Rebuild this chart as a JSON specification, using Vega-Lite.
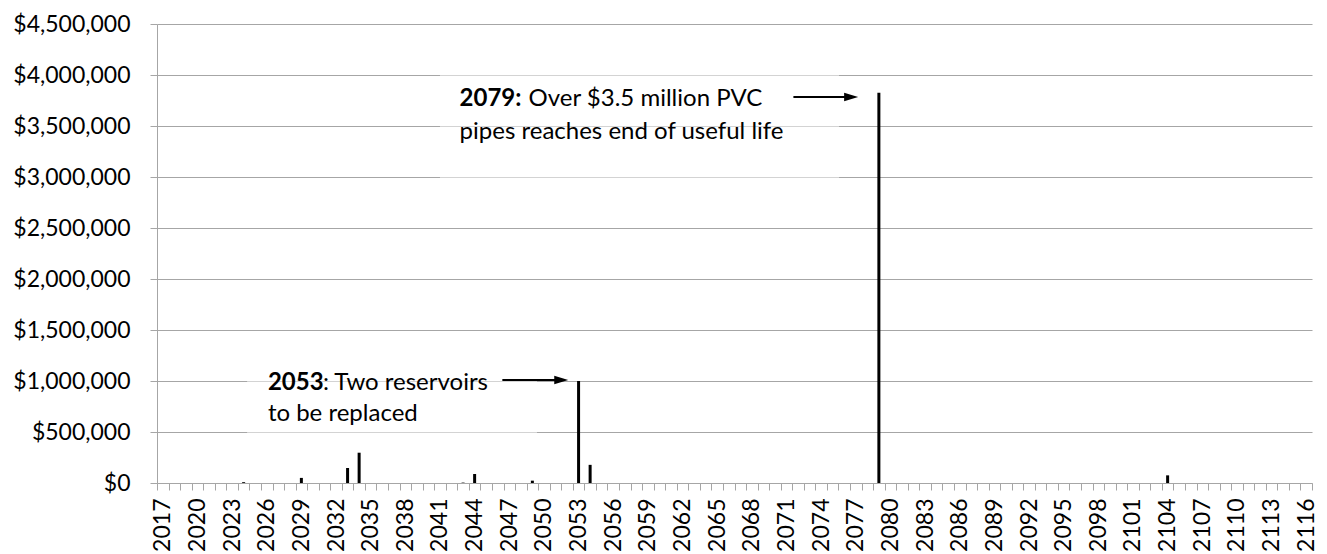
{
  "$schema": "https://vega.github.io/schema/vega-lite/v6.json",
  "autosize": {"type": "none"},
  "padding": {"left": 157, "top": 24, "right": 15, "bottom": 71},
  "width": 1155,
  "height": 459,
  "background": "white",
  "config": {
    "view": {"stroke": null},
    "font": "Lato",
    "axis": {"labelFont": "Lato", "labelColor": "#000000"}
  },
  "datasets": {
    "costs": [
      {"year": 2017, "cost": 0}, {"year": 2018, "cost": 0}, {"year": 2019, "cost": 0}, {"year": 2020, "cost": 0},
      {"year": 2021, "cost": 0}, {"year": 2022, "cost": 0}, {"year": 2023, "cost": 0}, {"year": 2024, "cost": 8000},
      {"year": 2025, "cost": 0}, {"year": 2026, "cost": 0}, {"year": 2027, "cost": 0}, {"year": 2028, "cost": 0},
      {"year": 2029, "cost": 50000}, {"year": 2030, "cost": 0}, {"year": 2031, "cost": 0}, {"year": 2032, "cost": 0},
      {"year": 2033, "cost": 147000}, {"year": 2034, "cost": 297000}, {"year": 2035, "cost": 0}, {"year": 2036, "cost": 0},
      {"year": 2037, "cost": 0}, {"year": 2038, "cost": 0}, {"year": 2039, "cost": 0}, {"year": 2040, "cost": 0},
      {"year": 2041, "cost": 0}, {"year": 2042, "cost": 0}, {"year": 2043, "cost": 4000}, {"year": 2044, "cost": 88000},
      {"year": 2045, "cost": 0}, {"year": 2046, "cost": 0}, {"year": 2047, "cost": 0}, {"year": 2048, "cost": 0},
      {"year": 2049, "cost": 23000}, {"year": 2050, "cost": 0}, {"year": 2051, "cost": 0}, {"year": 2052, "cost": 0},
      {"year": 2053, "cost": 1000000}, {"year": 2054, "cost": 178000}, {"year": 2055, "cost": 0}, {"year": 2056, "cost": 0},
      {"year": 2057, "cost": 0}, {"year": 2058, "cost": 0}, {"year": 2059, "cost": 0}, {"year": 2060, "cost": 0},
      {"year": 2061, "cost": 0}, {"year": 2062, "cost": 0}, {"year": 2063, "cost": 0}, {"year": 2064, "cost": 0},
      {"year": 2065, "cost": 0}, {"year": 2066, "cost": 0}, {"year": 2067, "cost": 0}, {"year": 2068, "cost": 0},
      {"year": 2069, "cost": 0}, {"year": 2070, "cost": 0}, {"year": 2071, "cost": 0}, {"year": 2072, "cost": 0},
      {"year": 2073, "cost": 0}, {"year": 2074, "cost": 0}, {"year": 2075, "cost": 0}, {"year": 2076, "cost": 0},
      {"year": 2077, "cost": 0}, {"year": 2078, "cost": 0}, {"year": 2079, "cost": 3826000}, {"year": 2080, "cost": 0},
      {"year": 2081, "cost": 0}, {"year": 2082, "cost": 0}, {"year": 2083, "cost": 0}, {"year": 2084, "cost": 0},
      {"year": 2085, "cost": 0}, {"year": 2086, "cost": 0}, {"year": 2087, "cost": 0}, {"year": 2088, "cost": 0},
      {"year": 2089, "cost": 0}, {"year": 2090, "cost": 0}, {"year": 2091, "cost": 0}, {"year": 2092, "cost": 0},
      {"year": 2093, "cost": 0}, {"year": 2094, "cost": 0}, {"year": 2095, "cost": 0}, {"year": 2096, "cost": 0},
      {"year": 2097, "cost": 0}, {"year": 2098, "cost": 0}, {"year": 2099, "cost": 0}, {"year": 2100, "cost": 0},
      {"year": 2101, "cost": 0}, {"year": 2102, "cost": 0}, {"year": 2103, "cost": 0}, {"year": 2104, "cost": 75000},
      {"year": 2105, "cost": 0}, {"year": 2106, "cost": 0}, {"year": 2107, "cost": 0}, {"year": 2108, "cost": 0},
      {"year": 2109, "cost": 0}, {"year": 2110, "cost": 0}, {"year": 2111, "cost": 0}, {"year": 2112, "cost": 0},
      {"year": 2113, "cost": 0}, {"year": 2114, "cost": 0}, {"year": 2115, "cost": 0}, {"year": 2116, "cost": 0}
    ],
    "boxes": [
      {"note": "2053", "x0": 2024.3, "x1": 2049.4, "y0": 370000, "y1": 1300000},
      {"note": "2079", "x0": 2041.0, "x1": 2075.55, "y0": 2900000, "y1": 4150000}
    ],
    "arrows": [
      {"note": "2053", "from": 2046.4, "to": 2051.5, "tip": 2051.5, "value": 1010000},
      {"note": "2079", "from": 2071.6, "to": 2076.6, "tip": 2076.6, "value": 3784000}
    ],
    "notes": [
      {"note": "2053", "year": 2026.1, "line1": 912000, "line2": 608000, "head": "2053", "rest": ": Two reservoirs", "second": "to be replaced"},
      {"note": "2079", "year": 2042.7, "line1": 3696000, "line2": 3369000, "head": "2079:", "rest": "Over $3.5 million PVC", "second": "pipes reaches end of useful life"}
    ]
  },
  "resolve": {"scale": {"x": "independent"}},
  "layer": [
    {
      "data": {"name": "boxes"},
      "mark": {"type": "rect", "fill": "white", "opacity": 0.5},
      "encoding": {
        "x": {"field": "x0", "type": "quantitative", "scale": {"domain": [2016.5, 2116.5], "nice": false, "zero": false}, "axis": null},
        "x2": {"field": "x1"},
        "y": {"field": "y0", "type": "quantitative"},
        "y2": {"field": "y1"}
      }
    },
    {
      "data": {"name": "costs"},
      "mark": {"type": "bar", "color": "#000000", "size": 3},
      "encoding": {
        "x": {
          "field": "year", "type": "ordinal",
          "scale": {"paddingInner": 0, "paddingOuter": 0},
          "axis": {
            "title": null,
            "tickBand": "extent",
            "labelAngle": -90,
            "labelExpr": "(datum.value - 2017) % 3 == 0 ? datum.label : ''",
            "labelOverlap": false,
            "labelFontSize": 23,
            "labelPadding": 8,
            "tickSize": 7,
            "tickColor": "#a6a6a6",
            "domainColor": "#a6a6a6",
            "tickWidth": 1,
            "domainWidth": 1,
            "grid": false
          }
        },
        "y": {
          "field": "cost", "type": "quantitative",
          "scale": {"domain": [0, 4500000], "nice": false},
          "axis": {
            "title": null,
            "values": [0, 500000, 1000000, 1500000, 2000000, 2500000, 3000000, 3500000, 4000000, 4500000],
            "format": "$,.0f",
            "labelFontSize": 23,
            "labelPadding": 20,
            "tickSize": 7,
            "tickColor": "#a6a6a6",
            "domainColor": "#a6a6a6",
            "gridColor": "#a6a6a6",
            "gridWidth": 1.2,
            "grid": true
          }
        }
      }
    },
    {
      "data": {"name": "arrows"},
      "mark": {"type": "rule", "color": "#000000", "strokeWidth": 2},
      "encoding": {
        "x": {"field": "from", "type": "quantitative", "scale": {"domain": [2016.5, 2116.5], "nice": false, "zero": false}, "axis": null},
        "x2": {"field": "to"},
        "y": {"field": "value", "type": "quantitative"}
      }
    },
    {
      "data": {"name": "arrows"},
      "mark": {"type": "point", "shape": "M-1,-0.6L1,0L-1,0.6Z", "filled": true, "color": "#000000", "opacity": 1, "size": 196},
      "encoding": {
        "x": {"field": "tip", "type": "quantitative", "scale": {"domain": [2016.5, 2116.5], "nice": false, "zero": false}, "axis": null},
        "y": {"field": "value", "type": "quantitative"}
      }
    },
    {
      "data": {"name": "notes"},
      "mark": {"type": "text", "align": "left", "baseline": "alphabetic", "fontSize": 24, "fontWeight": "bold", "color": "#000000"},
      "encoding": {
        "x": {"field": "year", "type": "quantitative", "scale": {"domain": [2016.5, 2116.5], "nice": false, "zero": false}, "axis": null},
        "y": {"field": "line1", "type": "quantitative"},
        "text": {"field": "head"}
      }
    },
    {
      "data": {"name": "notes"},
      "transform": [{"filter": "datum.note == '2053'"}],
      "mark": {"type": "text", "align": "left", "baseline": "alphabetic", "fontSize": 24, "dx": 55, "color": "#000000"},
      "encoding": {
        "x": {"field": "year", "type": "quantitative", "scale": {"domain": [2016.5, 2116.5], "nice": false, "zero": false}, "axis": null},
        "y": {"field": "line1", "type": "quantitative"},
        "text": {"field": "rest"}
      }
    },
    {
      "data": {"name": "notes"},
      "transform": [{"filter": "datum.note == '2079'"}],
      "mark": {"type": "text", "align": "left", "baseline": "alphabetic", "fontSize": 24, "dx": 69, "color": "#000000"},
      "encoding": {
        "x": {"field": "year", "type": "quantitative", "scale": {"domain": [2016.5, 2116.5], "nice": false, "zero": false}, "axis": null},
        "y": {"field": "line1", "type": "quantitative"},
        "text": {"field": "rest"}
      }
    },
    {
      "data": {"name": "notes"},
      "mark": {"type": "text", "align": "left", "baseline": "alphabetic", "fontSize": 24, "color": "#000000"},
      "encoding": {
        "x": {"field": "year", "type": "quantitative", "scale": {"domain": [2016.5, 2116.5], "nice": false, "zero": false}, "axis": null},
        "y": {"field": "line2", "type": "quantitative"},
        "text": {"field": "second"}
      }
    }
  ]
}
